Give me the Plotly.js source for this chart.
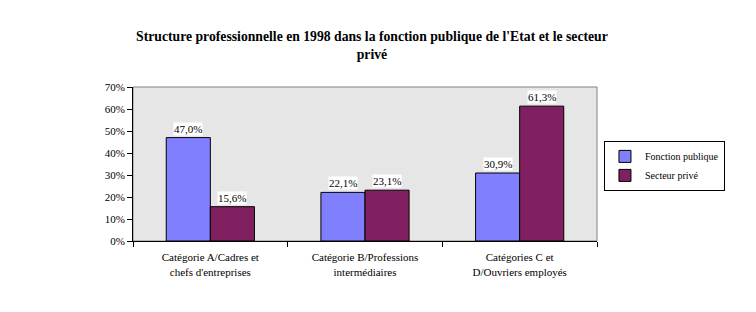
<!DOCTYPE html>
<html><head><meta charset="utf-8">
<script src="https://cdn.plot.ly/plotly-3.0.1.min.js"></script>
<style>body{margin:0;background:#fff}#c{width:756px;height:312px}</style>
</head><body><div id="c"></div>
<script>
const categories = ["Catégorie A/Cadres et<br>chefs d'entreprises", "Catégorie B/Professions<br>intermédiaires", "Catégories C et<br>D/Ouvriers employés"];
const seriesNames = ["Fonction publique", "Secteur privé"];
const fonctionPublique = [0.470, 0.221, 0.309];
const secteurPrive = [0.156, 0.231, 0.613];
const labelsFP = ["47,0%", "22,1%", "30,9%"];
const labelsSP = ["15,6%", "23,1%", "61,3%"];
const yTicks = [0, 0.1, 0.2, 0.3, 0.4, 0.5, 0.6, 0.7];
const yTickText = ["0%", "10%", "20%", "30%", "40%", "50%", "60%", "70%"];

const font = 'Liberation Serif';
const traces = [
  {type: "bar", name: seriesNames[0], x: categories, y: fonctionPublique,
   marker: {color: "#8080FF", line: {color: "#000", width: 1}}},
  {type: "bar", name: seriesNames[1], x: categories, y: secteurPrive,
   marker: {color: "#802060", line: {color: "#000", width: 1}}}
];
const annotations = [];
categories.forEach((c, i) => {
  annotations.push({x: c, y: fonctionPublique[i], text: labelsFP[i], xshift: -22, yshift: 9,
    showarrow: false, bgcolor: "#fff", font: {family: font, size: 11, color: "#000"}, borderpad: 0});
  annotations.push({x: c, y: secteurPrive[i], text: labelsSP[i], xshift: 22, yshift: 9,
    showarrow: false, bgcolor: "#fff", font: {family: font, size: 11, color: "#000"}, borderpad: 0});
});
const layout = {
  width: 756, height: 312,
  margin: {l: 133, r: 159, t: 87, b: 71},
  paper_bgcolor: "#fff", plot_bgcolor: "#E6E6E6",
  font: {family: font, size: 11, color: "#000"},
  title: {text: "<b>Structure professionnelle en 1998 dans la fonction publique de l'Etat et le secteur<br>privé</b>",
          font: {family: font, size: 13.7, color: "#000"}, x: 0.492, xanchor: "center", y: 0.868, yanchor: "top"},
  barmode: "group", bargap: 0.43, bargroupgap: 0,
  xaxis: {showline: true, linecolor: "#000", linewidth: 1, ticks: "outside", tickson: "boundaries",
          ticklen: 5, tickcolor: "#000", showgrid: false, tickfont: {family: font, size: 11},
          ticklabelstandoff: 6},
  yaxis: {range: [0, 0.7], tickvals: yTicks, ticktext: yTickText, showline: true, linecolor: "#000",
          ticks: "outside", ticklen: 5, tickcolor: "#000", showgrid: false, zeroline: false,
          tickfont: {family: font, size: 11}},
  legend: {x: 1.015, y: 0.65, xanchor: "left", yanchor: "top", bgcolor: "#fff", bordercolor: "#000", borderwidth: 1,
           font: {family: font, size: 10}, itemwidth: 30, tracegroupgap: 0},
  shapes: [{type: "rect", xref: "paper", yref: "paper", x0: 0, x1: 1, y0: 0, y1: 1,
            line: {color: "#808080", width: 1}, layer: "below"}],
  annotations: annotations,
  showlegend: true
};
Plotly.newPlot("c", traces, layout, {staticPlot: true});
</script></body></html>
